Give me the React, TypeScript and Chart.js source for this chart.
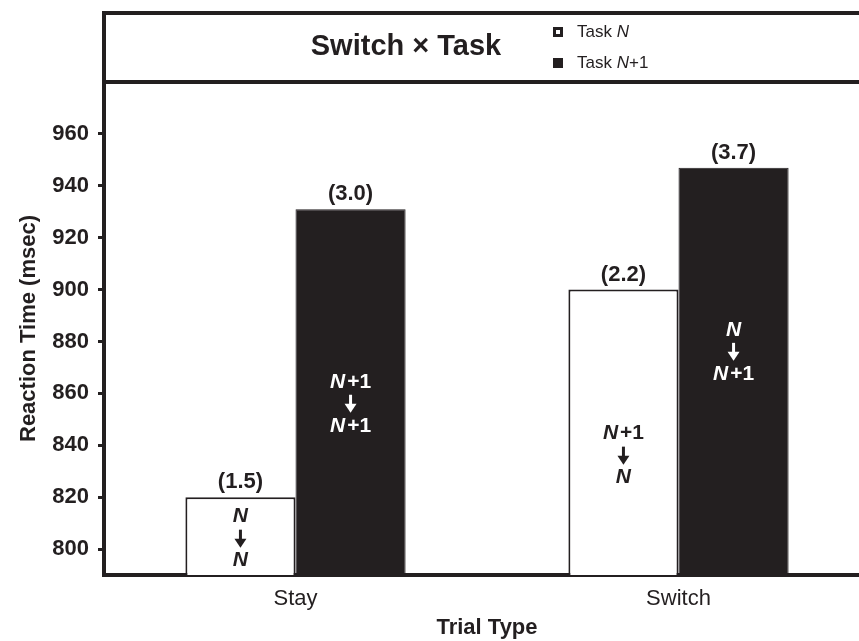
import React, { useEffect, useRef } from "react";
import { Chart, registerables } from "chart.js";

Chart.register(...registerables);

// ---------- data ----------
const categories = ["Stay", "Switch"];
const seriesNames = ["Task N", "Task N+1"];
const taskN = [820, 900];
const taskN1 = [931, 947];
const errorRatesN = ["(1.5)", "(2.2)"];
const errorRatesN1 = ["(3.0)", "(3.7)"];
const yTicks = [800, 820, 840, 860, 880, 900, 920, 940, 960];
const yMin = 790;
const yMax = 980;
const chartTitle = "Switch \u00D7 Task";
const xTitle = "Trial Type";
const yTitle = "Reaction Time (msec)";
// transition annotations inside bars ("↓" = arrow)
const transitionsN = [["N", "\u2193", "N"], ["N+1", "\u2193", "N"]];
const transitionsN1 = [["N+1", "\u2193", "N+1"], ["N", "\u2193", "N+1"]];
// vertical anchor (in data units) for the centre of each annotation
const transitionAnchorN = [804, 836];
const transitionAnchorN1 = [856, 876];

// ---------- style ----------
const DARK = "#231f20";
const FONT = "'Liberation Sans', Arial, Helvetica, sans-serif";

function drawRich(
  ctx: CanvasRenderingContext2D,
  text: string,
  x: number,
  y: number,
  size: number,
  weight: string,
  color: string,
  align: "center" | "left",
  gap: number
) {
  const parts = text.split(/(N)/).filter((p) => p.length > 0);
  const fontFor = (p: string) =>
    p === "N" ? `italic ${weight} ${size}px ${FONT}` : `${weight} ${size}px ${FONT}`;
  let total = 0;
  const widths = parts.map((p) => {
    ctx.font = fontFor(p);
    const w = ctx.measureText(p).width;
    total += w;
    return w;
  });
  total += gap * (parts.length - 1);
  let cx = align === "center" ? x - total / 2 : x;
  ctx.fillStyle = color;
  ctx.textAlign = "left";
  ctx.textBaseline = "middle";
  parts.forEach((p, i) => {
    ctx.font = fontFor(p);
    ctx.fillText(p, cx, y);
    cx += widths[i] + gap;
  });
}

function drawArrow(ctx: CanvasRenderingContext2D, x: number, y: number, color: string) {
  ctx.save();
  ctx.strokeStyle = color;
  ctx.fillStyle = color;
  ctx.lineWidth = 3;
  ctx.beginPath();
  ctx.moveTo(x, y - 9);
  ctx.lineTo(x, y + 1);
  ctx.stroke();
  ctx.beginPath();
  ctx.moveTo(x - 6, y);
  ctx.lineTo(x + 6, y);
  ctx.lineTo(x, y + 9);
  ctx.closePath();
  ctx.fill();
  ctx.restore();
}

const decorPlugin = {
  id: "decor",
  afterDraw(chart: any) {
    const { ctx, chartArea } = chart;
    const ys = chart.scales.y;
    ctx.save();

    // header panel
    ctx.strokeStyle = DARK;
    ctx.lineWidth = 4;
    ctx.strokeRect(chartArea.left, 13, chart.width - chartArea.left + 20, chartArea.top - 13);

    const mid = (chartArea.left + chartArea.right) / 2;
    // title
    ctx.fillStyle = DARK;
    ctx.font = `bold 29px ${FONT}`;
    ctx.textAlign = "center";
    ctx.textBaseline = "middle";
    ctx.fillText(chartTitle, mid - 81, 47);

    // legend
    const lx = mid + 66;
    const legendY = [32, 63];
    chart.data.datasets.forEach((ds: any, i: number) => {
      const ly = legendY[i];
      if (i === 0) {
        ctx.fillStyle = DARK;
        ctx.fillRect(lx, ly - 5, 10, 10);
        ctx.fillStyle = "#ffffff";
        ctx.fillRect(lx + 3, ly - 2, 4, 4);
      } else {
        ctx.fillStyle = DARK;
        ctx.fillRect(lx, ly - 5, 10, 10);
      }
      drawRich(ctx, ds.label, lx + 24, ly, 17, "normal", DARK, "left", 0);
    });

    // bar annotations
    const errs = [errorRatesN, errorRatesN1];
    const trans = [transitionsN, transitionsN1];
    const anchors = [transitionAnchorN, transitionAnchorN1];
    chart.data.datasets.forEach((_ds: any, di: number) => {
      const meta = chart.getDatasetMeta(di);
      const inner = di === 0 ? DARK : "#ffffff";
      meta.data.forEach((bar: any, j: number) => {
        const { x, y } = bar.getProps(["x", "y"], true);
        ctx.fillStyle = DARK;
        ctx.font = `bold 22px ${FONT}`;
        ctx.textAlign = "center";
        ctx.textBaseline = "middle";
        ctx.fillText(errs[di][j], x, y - 15);

        const cy = ys.getPixelForValue(anchors[di][j]);
        trans[di][j].forEach((ln: string, k: number) => {
          const ly = cy + (k - 1) * 22;
          if (ln === "\u2193") drawArrow(ctx, x, ly, inner);
          else drawRich(ctx, ln, x, ly, 21, "bold", inner, "center", 2);
        });
      });
    });
    ctx.restore();
  },
};

export default function App() {
  const ref = useRef<HTMLCanvasElement | null>(null);

  useEffect(() => {
    if (!ref.current) return;
    const chart = new Chart(ref.current, {
      type: "bar",
      data: {
        labels: categories,
        datasets: [
          {
            label: seriesNames[0],
            data: taskN,
            backgroundColor: "#ffffff",
            borderColor: DARK,
            borderWidth: 2,
            barPercentage: 1,
            categoryPercentage: 0.575,
          },
          {
            label: seriesNames[1],
            data: taskN1,
            backgroundColor: DARK,
            borderColor: DARK,
            borderWidth: 1,
            barPercentage: 1,
            categoryPercentage: 0.575,
          },
        ],
      },
      options: {
        responsive: false,
        animation: false,
        devicePixelRatio: 1,
        layout: { padding: { top: 82, right: 0, left: 0, bottom: 0 } },
        plugins: {
          legend: { display: false },
          tooltip: { enabled: false },
          title: { display: false },
        },
        scales: {
          x: {
            type: "category",
            grid: { display: false, drawTicks: false },
            border: { display: true, width: 4, color: DARK },
            ticks: { color: DARK, font: { family: FONT, size: 22 }, padding: 11 },
            title: {
              display: true,
              text: xTitle,
              color: DARK,
              font: { family: FONT, size: 22, weight: "bold" },
              padding: { top: 0, bottom: 0 },
            },
            afterFit(scale: any) {
              scale.height = 66;
            },
          },
          y: {
            min: yMin,
            max: yMax,
            afterBuildTicks(scale: any) {
              scale.ticks = yTicks.map((v) => ({ value: v }));
            },
            grid: {
              drawOnChartArea: false,
              drawTicks: true,
              tickLength: 6,
              tickWidth: 3,
              tickColor: DARK,
            },
            border: { display: true, width: 4, color: DARK },
            ticks: { color: DARK, font: { family: FONT, size: 22, weight: "bold" }, padding: 9 },
            title: {
              display: true,
              text: yTitle,
              color: DARK,
              font: { family: FONT, size: 22, weight: "bold" },
              padding: { top: 16, bottom: 0 },
            },
            afterFit(scale: any) {
              scale.width = 104;
            },
          },
        },
      } as any,
      plugins: [decorPlugin],
    });
    return () => chart.destroy();
  }, []);

  return (
    <div
      style={{
        position: "fixed",
        left: 0,
        top: 0,
        width: 859,
        height: 641,
        overflow: "hidden",
        background: "#ffffff",
      }}
    >
      <canvas ref={ref} width={870} height={641} style={{ display: "block", width: 870, height: 641 }} />
    </div>
  );
}
